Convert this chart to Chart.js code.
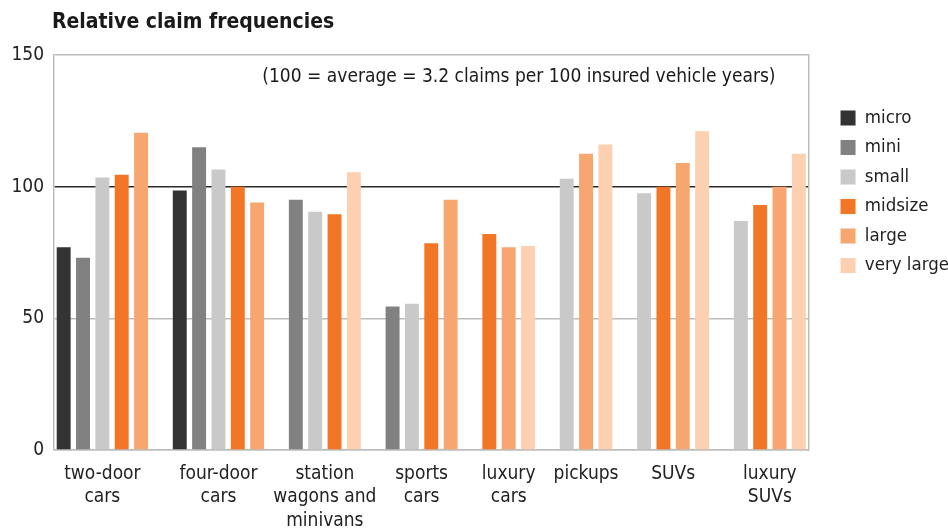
<!DOCTYPE html>
<html>
<head>
<meta charset="utf-8">
<title>Relative claim frequencies</title>
<script src="https://cdn.jsdelivr.net/npm/chart.js@4/dist/chart.umd.min.js"></script>
<style>
  html, body { margin: 0; padding: 0; background: #fff; }
</style>
</head>
<body>
<canvas id="claimChart" width="948" height="529"></canvas>
<script>
// chart data
var chartTitle = 'Relative claim frequencies';
var note = '(100 = average = 3.2 claims per 100 insured vehicle years)';
var categories = [['two-door', 'cars'], ['four-door', 'cars'], ['station', 'wagons and', 'minivans'],
                  ['sports', 'cars'], ['luxury', 'cars'], ['pickups'], ['SUVs'], ['luxury', 'SUVs']];
var sizeNames = ['micro', 'mini', 'small', 'midsize', 'large', 'very large'];
var micro     = [77,    98.5,  null, null, null, null,  null,  null];
var mini      = [73,    115,   95,   54.5, null, null,  null,  null];
var small     = [103.5, 106.5, 90.5, 55.5, null, 103,   97.5,  87];
var midsize   = [104.5, 100,   89.5, 78.5, 82,   null,  100,   93];
var large     = [120.5, 94,    null, 95,   77,   112.5, 109,   100];
var veryLarge = [null,  null,  105.5, null, 77.5, 116,  121,   112.5];
var yTicks = [0, 50, 100, 150];

var FONT = "'Liberation Sans Narrow', 'DejaVu Sans Condensed', 'Arial Narrow', sans-serif";
var colors = ['#333333', '#818181', '#c9c9c9', '#f37526', '#f8a670', '#fcd0b0'];
var allSeries = [micro, mini, small, midsize, large, veryLarge];

// every bar gets its own slot, one empty slot between vehicle groups
var slotLabels = [];
var slotData = [[], [], [], [], [], []];
var groupCenters = [];
var slot = 0;
categories.forEach(function(cat, c) {
  var first = slot;
  allSeries.forEach(function(vals, s) {
    if (vals[c] === null) return;
    for (var k = 0; k < allSeries.length; k++) {
      slotData[k].push(k === s ? vals[c] : null);
    }
    slotLabels.push(cat.join(' ') + ', ' + sizeNames[s]);
    slot++;
  });
  groupCenters.push((first + slot - 1) / 2);
  if (c < categories.length - 1) {
    for (var k = 0; k < allSeries.length; k++) slotData[k].push(null);
    slotLabels.push('');
    slot++;
  }
});

var datasets = sizeNames.map(function(name, s) {
  return {
    label: name,
    data: slotData[s],
    backgroundColor: colors[s],
    borderWidth: 0,
    skipNull: true,
    categoryPercentage: 1,
    barPercentage: 0.72,
    xAxisID: 'x',
    yAxisID: 'y'
  };
});

// title and note text
var textPlugin = {
  id: 'texts',
  afterDraw: function(chart) {
    var ctx = chart.ctx;
    var area = chart.chartArea;
    ctx.save();
    ctx.fillStyle = '#1a1a1a';
    ctx.textAlign = 'left';
    ctx.textBaseline = 'alphabetic';
    ctx.font = 'bold 21px ' + FONT;
    ctx.fillText(chartTitle, 52, 28);
    ctx.font = '19px ' + FONT;
    ctx.textAlign = 'right';
    ctx.textBaseline = 'middle';
    ctx.fillText(note, area.right - 33, chart.scales.y.getPixelForValue(141.5));
    ctx.restore();
  }
};

var ctx = document.getElementById('claimChart').getContext('2d');
var chart = new Chart(ctx, {
  type: 'bar',
  data: {
    labels: slotLabels,
    datasets: datasets
  },
  options: {
    responsive: false,
    animation: false,
    devicePixelRatio: 1,
    layout: { padding: { top: 55, right: -11, bottom: 0, left: 0 } },
    plugins: {
      legend: {
        position: 'right',
        align: 'start',
        fullSize: false,
        title: { display: true, text: '', padding: { top: 41.5, bottom: 0 }, font: { size: 1 } },
        labels: {
          boxWidth: 15,
          boxHeight: 15,
          padding: 11,
          color: '#222',
          font: { family: FONT, size: 18.5 }
        }
      },
      tooltip: { enabled: false }
    },
    scales: {
      x: {
        type: 'category',
        display: false
      },
      xl: {
        type: 'linear',
        position: 'bottom',
        offset: false,
        min: -0.5,
        max: slot - 0.5,
        bounds: 'data',
        afterBuildTicks: function(scale) {
          scale.ticks = groupCenters.map(function(v) { return { value: v }; });
        },
        afterFit: function(scale) { scale.height = 79; },
        ticks: {
          autoSkip: false,
          maxRotation: 0,
          padding: 12,
          color: '#222',
          font: { family: FONT, size: 19, lineHeight: 1.24 },
          callback: function(value, index) { return categories[index]; }
        },
        grid: { display: false, drawTicks: false, offset: false },
        border: { display: true, color: '#bdbdbd', width: 1.5 }
      },
      y: {
        min: 0,
        max: 150,
        afterBuildTicks: function(scale) {
          scale.ticks = yTicks.map(function(v) { return { value: v }; });
        },
        afterFit: function(scale) { scale.width = 54; },
        ticks: {
          padding: 10,
          color: '#222',
          font: { family: FONT, size: 19 }
        },
        grid: {
          color: function(c) { return c.tick && c.tick.value === 100 ? '#2b2b2b' : '#bdbdbd'; },
          lineWidth: 1.5,
          drawTicks: false
        },
        border: { color: '#bdbdbd', width: 1.5 }
      },
      y2: {
        position: 'right',
        min: 0,
        max: 150,
        afterFit: function(scale) { scale.width = 21; },
        ticks: { display: false },
        grid: { display: false, drawTicks: false },
        border: { display: true, color: '#bdbdbd', width: 1.5 }
      }
    }
  },
  plugins: [textPlugin]
});
</script>
</body>
</html>
